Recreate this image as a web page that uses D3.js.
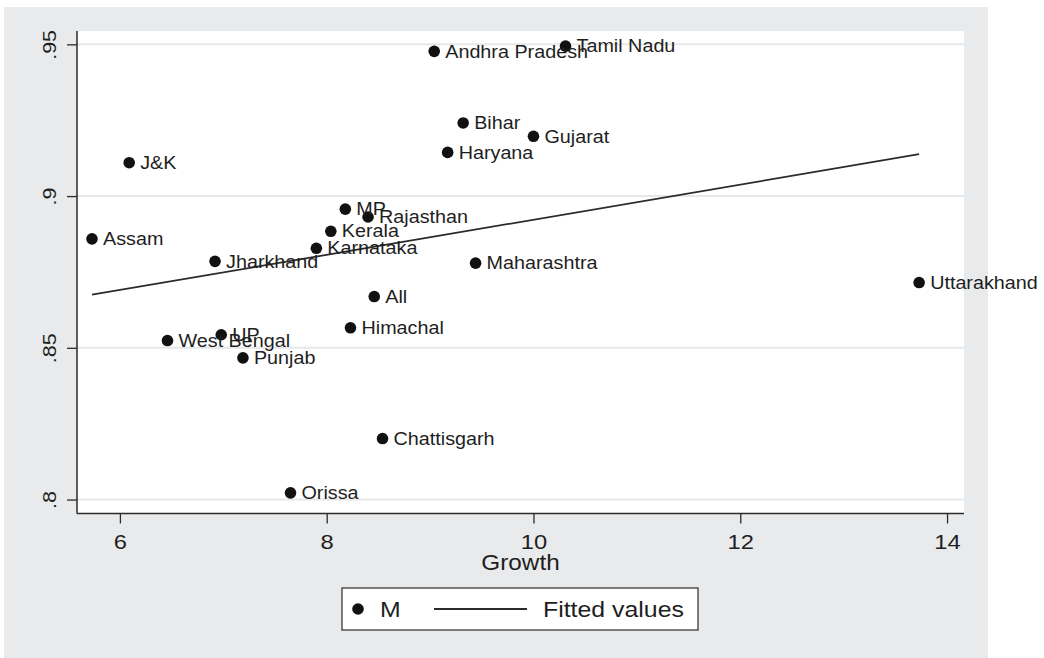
<!DOCTYPE html>
<html><head><meta charset="utf-8">
<script src="https://cdn.jsdelivr.net/npm/d3@7/dist/d3.min.js"></script>
<style>body{margin:0;background:#fff}svg{display:block}text{font-family:"Liberation Sans",Arial,Helvetica,sans-serif;fill:#1e1e1e}</style>
</head><body><svg id="c" width="1044" height="658"></svg>
<script>
const states = ["Andhra Pradesh","Tamil Nadu","Bihar","Gujarat","Haryana","J&K","MP","Rajasthan","Kerala","Assam","Karnataka","Jharkhand","Maharashtra","Uttarakhand","All","Himachal","UP","West Bengal","Punjab","Chattisgarh","Orissa"];
const growth = [9.04,10.31,9.32,10.0,9.17,6.09,8.18,8.40,8.04,5.73,7.90,6.92,9.44,13.73,8.46,8.23,6.98,6.46,7.19,8.54,7.65];
const mValues = [0.9477,0.9494,0.9241,0.9197,0.9144,0.9110,0.8957,0.8931,0.8884,0.8859,0.8828,0.8785,0.8779,0.8715,0.8669,0.8566,0.8543,0.8524,0.8467,0.8201,0.8022];
const fitX = [5.73,13.73];
const fitY = [0.8675,0.9138];
const xTicks = [6,8,10,12,14];
const yTicks = [0.8,0.85,0.9,0.95];
const yTickLabels = [".8",".85",".9",".95"];
const xTitle = "Growth";
const legendLabels = ["M","Fitted values"];

const svg = d3.select("#c");
const SX = 1.13;
const L = 77, R = 964, T = 31, B = 513.5;
const x = d3.scaleLinear().domain([5.585,14.164]).range([L,R]);
const y = d3.scaleLinear().domain([0.7954,0.9544]).range([B,T]);

svg.append("rect").attr("x",4).attr("y",7).attr("width",984).attr("height",651).attr("fill","#e9eaec");
svg.append("rect").attr("x",L).attr("y",T).attr("width",R-L).attr("height",B-T).attr("fill","#fff");

// gridlines
svg.append("g").selectAll("line").data(yTicks).join("line")
  .attr("x1",L).attr("x2",R).attr("y1",d=>y(d)).attr("y2",d=>y(d))
  .attr("stroke","#e6e7e9").attr("stroke-width",2);

// axes
const xAxis = d3.axisBottom(x).tickValues(xTicks).tickSize(10).tickFormat(d3.format("d"));
const gx = svg.append("g").attr("transform",`translate(0,${B})`).call(xAxis);
gx.select(".domain").attr("stroke","#2a2a2a").attr("stroke-width",1.5).attr("d",`M${L},0H${R}`);
gx.selectAll(".tick line").attr("stroke","#2a2a2a").attr("stroke-width",1.3);
gx.selectAll(".tick text").attr("y",0).attr("dy",null)
  .attr("transform",`translate(0,35.5) scale(${SX},1)`)
  .style("font-size","21px").style("font-family",'"Liberation Sans",Arial,sans-serif').attr("fill","#1e1e1e");

const yAxis = d3.axisLeft(y).tickValues(yTicks).tickSize(10).tickFormat((d,i)=>yTickLabels[i]);
const gy = svg.append("g").attr("transform",`translate(${L},0)`).call(yAxis);
gy.select(".domain").attr("stroke","#2a2a2a").attr("stroke-width",1.5).attr("d",`M0,${T}V${B}`);
gy.selectAll(".tick line").attr("stroke","#2a2a2a").attr("stroke-width",1.3);
gy.selectAll(".tick text").attr("x",0).attr("dy",null).attr("text-anchor","middle")
  .attr("transform",`translate(-21,0) rotate(-90) scale(${SX},1)`)
  .style("font-size","19px").style("font-family",'"Liberation Sans",Arial,sans-serif').attr("fill","#1e1e1e");

// fitted line
svg.append("path").datum(fitX.map((d,i)=>[d,fitY[i]]))
  .attr("d",d3.line().x(d=>x(d[0])).y(d=>y(d[1])))
  .attr("fill","none").attr("stroke","#2b2b2b").attr("stroke-width",1.8);

// points
const pts = states.map((s,i)=>({s,g:growth[i],m:mValues[i]}));
svg.append("g").selectAll("circle").data(pts).join("circle")
  .attr("cx",d=>x(d.g)).attr("cy",d=>y(d.m)).attr("r",5.8).attr("fill","#111");
svg.append("g").selectAll("text").data(pts).join("text")
  .attr("transform",d=>`translate(${x(d.g)+11},${y(d.m)+6.2}) scale(${SX},1)`)
  .style("font-size","17.5px").text(d=>d.s);

// x title
svg.append("text").attr("transform",`translate(${(L+R)/2},570) scale(${SX},1)`)
  .attr("text-anchor","middle").style("font-size","21.5px").text(xTitle);

// legend
const lg = svg.append("g");
lg.append("rect").attr("x",342).attr("y",588).attr("width",356).attr("height",42)
  .attr("fill","#fff").attr("stroke","#3a3a3a").attr("stroke-width",1.3);
lg.append("circle").attr("cx",358).attr("cy",609).attr("r",5.8).attr("fill","#111");
lg.append("text").attr("transform",`translate(380,617.3) scale(${SX},1)`).style("font-size","22px").text(legendLabels[0]);
lg.append("line").attr("x1",434).attr("x2",527).attr("y1",609).attr("y2",609).attr("stroke","#2b2b2b").attr("stroke-width",1.8);
lg.append("text").attr("transform",`translate(543,617.3) scale(${SX},1)`).style("font-size","22px").text(legendLabels[1]);
</script></body></html>
